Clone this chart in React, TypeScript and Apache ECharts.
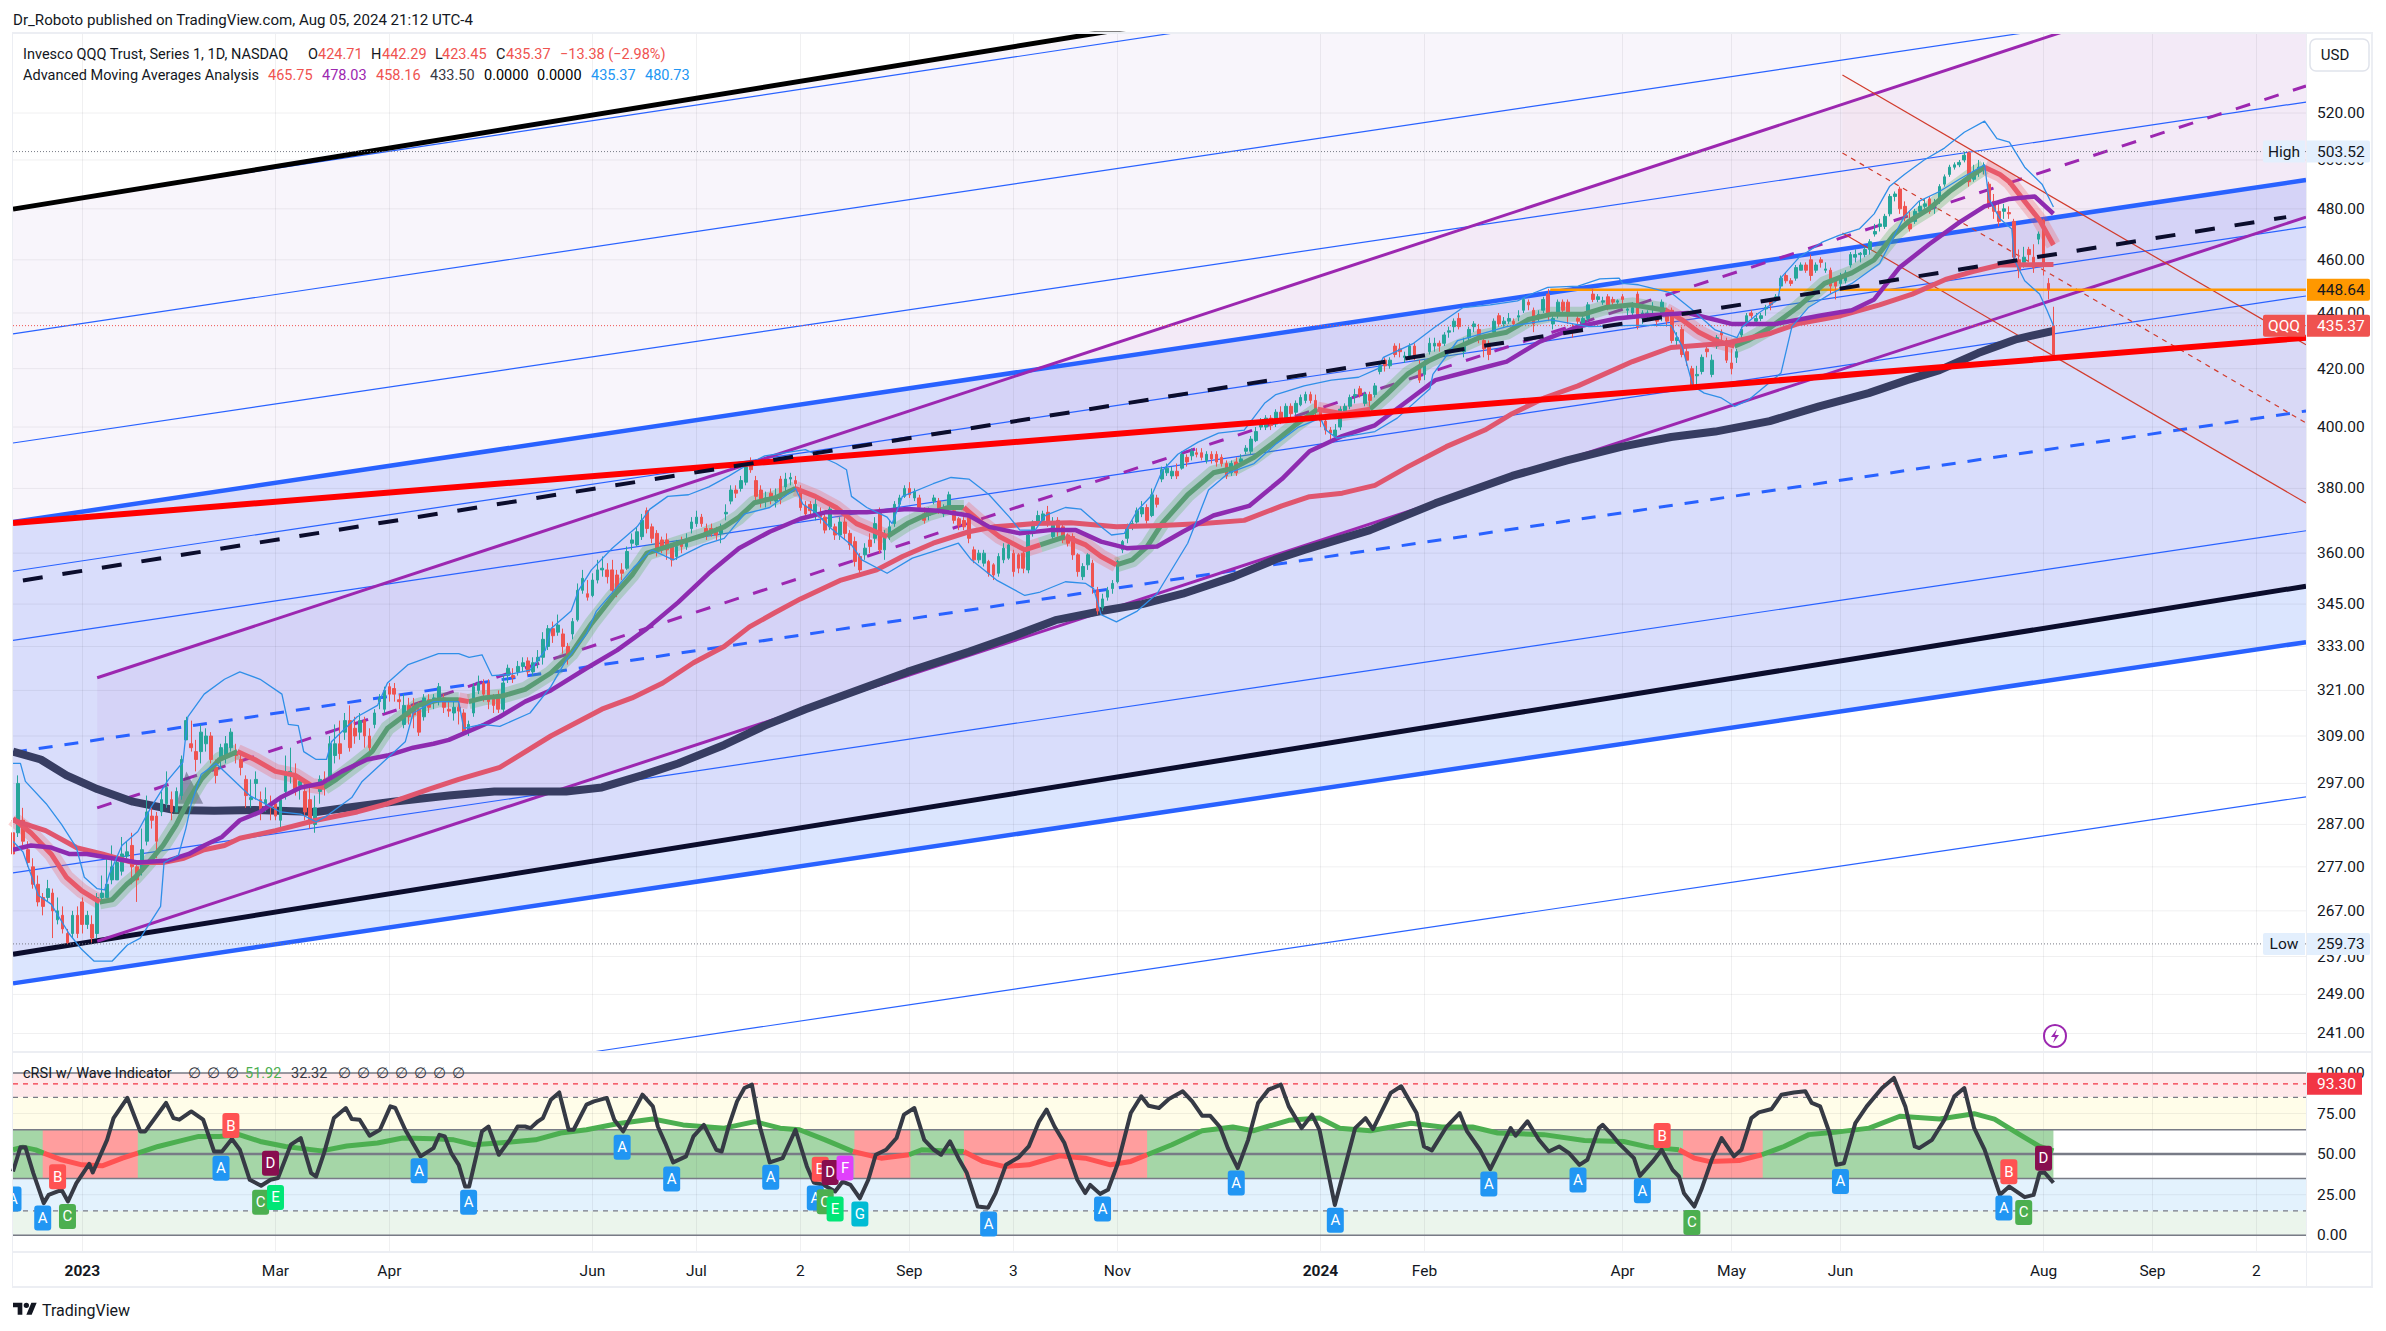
import React, { useEffect, useRef } from "react";
import * as echarts from "echarts";

const W = 2386, H = 1331;
const FONT = "Roboto, 'Noto Sans', sans-serif";
const FIRST_K = -14, LAST_K = 449;

// ---------- time axis
const timeTicks: [number, string][] = [[0, "2023"], [39, "Mar"], [62, "Apr"], [103, "Jun"], [124, "Jul"], [145, "2"], [167, "Sep"], [188, "3"], [209, "Nov"], [250, "2024"], [271, "Feb"], [311, "Apr"], [333, "May"], [355, "Jun"], [396, "Aug"], [418, "Sep"], [439, "2"]];
// ---------- price axis
const priceTicks = [520, 500, 480, 460, 440, 420, 400, 380, 360, 345, 333, 321, 309, 297, 287, 277, 267, 257, 249, 241];
const oscTicks = [100, 75, 50, 25, 0];

// ---------- candles [open, close, low, high]
const candlesA = [[285,280,279,286],[285,297,284,299],[288,283,282,291],[281,278,277,283],[277,273,272,279],[273,269,268,275],[270,268,266,271],[270,272,269,274],[271,267,261,272],[265,267,264,270],[266,263,262,268],[262,260,259.73,263],[262,266,261,267],[266,262,261,268],[269,264,262,270],[264,266,263,267],[264,261,260,266],[262,270,261,271],[270,271,269,275],[270,273,270,280],[274,277,273,282],[274,278,274,279],[276,280,275,284],[279.5,280.5,278,283],[282,277,273,285],[277,274,269,278],[276,281,275,286],[283,290,282,294],[289,288,286,291],[289,283,279,290],[290,293,289,295],[292,296,291,300],[293,290,288,295],[290,295,290,296],[294,303,293,304],[308,313,308,314],[307,306,305,313],[305,303,300,308],[305,310,302,312],[307,309,305,311],[309,303,302,310],[301,299,297,303],[303,306,301,307],[304,307,302,309],[306,310,305,311],[305,304,302,307],[303,301,299,305],[298,294,291,299],[293,293.5,291,298],[297,298,293,300],[293,290,288,295],[292,293,290,296],[291.5,291,288,294],[292,289,288,293],[288,293,286,294],[295,299,293,304],[299,300,297,306],[299,295,294,302],[296.5,297.5,293,299],[295,290,288,297],[293,288,286,296],[287,291,285,294],[295,298,292,299],[298,296.5,294,300],[298,307,297,309],[304,307,302,312],[307,304.5,303,313],[310,313,308,315],[313,306,305,317],[311,309,307,314],[310,313,308,315],[313,309,306,314],[309,306,303,311],[312,315,311,316],[318,319,316,320],[316,321,315,322],[322,320,318,323],[321.5,320,318,323],[318.5,318,316,320],[312,317,311,320],[317,314,312,319],[317,314.5,311,319],[316,310,309,318],[314,319,313,320],[318.5,316.5,315,320],[318,319,316,320],[318,322,317,323],[319,316.5,315,320],[316,315.5,314,318],[315,316.5,313,318],[316.5,315.5,312,319],[315,310,309,316],[310,312,309,313],[315,322,314,323],[321,323,320,325],[323,320,318,324],[323,318,316,324],[319,317,315,320],[319,316,315,321],[316,323,315,325],[325,327,323,328],[325,324.5,323,327],[326,327.5,325,329],[327.5,328.5,326,330],[329,326,325,330],[326,328.5,325,330],[329,330,327,332],[330,335,328,337],[333,338,332,339]];
const candlesB = [[338,336,334,340],[337,339,336,342],[336.5,333,331,338],[333,330,328,334],[336.5,340,335,341],[340.5,349,340,351],[349,352.5,348,355],[348,347,346,352],[347.5,352,347,354],[352,355,351,358],[355,355.5,353,359],[355,353,351,357],[355,349,347,358],[353.5,348.5,347,355],[355,354,352,357],[355.5,360.5,355,362],[363,364,361,366],[362.5,366.5,362,368],[365,370,364,372],[373,367.5,366,374],[368,364.5,363,369],[366,361.5,359,367],[364,362,360,365],[364,361,358,366],[362,358,356,363],[359,362,358,364],[363.5,362,360,365],[362,364,361,366],[367.5,369.5,366,371],[369,371,368,373],[371,369,368,372],[367.5,365.5,364,369],[367.5,366.5,365,369],[366.5,365.5,364,368],[366,368,363,369],[372,372.5,370,375],[376,379.5,375,381],[379.5,378.5,377,381],[380,382.5,379,384],[382,387,381,388],[388,386,385,390],[382.5,377.5,376,384],[379.5,375.5,374,381],[376,377,374,379],[378.5,376.5,375,380],[376,377.5,374,380],[383,376.5,375,384],[380.5,383,379,385],[383,383.5,381,385],[382.5,381.5,380,384],[379.5,374,373,381],[374.5,372,371,376],[375,373,371,376],[371.5,375,370,377],[372,371,369,374],[371,367,366,372],[368,373.5,367,375],[368,365.5,364,369],[365.5,369.5,364,371],[369.5,366,364,371],[366,362.5,361,367],[363.5,357.5,356,365],[359,355,354,360],[359.5,361.5,358,363],[364,362,360,366],[364.5,369,363,371],[373,361,360,374],[361,365,358,367],[366,368,364,370],[369,375,368,376],[375,377,374,378],[377.5,380,377,381],[380,378,377,382],[377,379,376,380],[377,374,373,378],[372,370,369,374],[371.5,372.5,370,374],[376,377,375,378],[376,373,372,377],[372,374,371,375],[373.5,378,373,379],[373,370,369,374],[370.5,368.5,367,371],[370,368,367,371],[371,364.5,363,372],[361,358,357,362],[358,360,357,361],[357,360,356,361],[357.5,354,353,358],[356.5,353.5,352,357],[354,359,353,360],[358,361.5,357,363],[358.5,362.5,358,364],[360,354.5,353,361],[359.5,355.5,354,360],[360,355.5,354,361],[355,365.5,354,366],[366,369.5,365,370],[369.5,371.5,369,373],[370,372,369,373],[372.5,369.5,368,374.5],[365,369.5,364,371],[370,366.5,365,371],[368,364,363,369],[365.5,363,362,366],[365,359.5,358,366],[359.5,354.5,353,360],[353,356,352,357],[356.5,359.5,355,360],[357,350,348,358],[349,343,342,350],[344,346.5,343,348],[347,349,346,350],[349.5,351,348,352],[351.5,357.5,351,358],[361,363.5,360,364],[364.5,368,363,369],[368,369,367,370],[369.5,373,369,374],[372,374,371,376],[374,370,369,375],[371.5,378,371,380],[377,375,374,378],[383,386,382,387],[385,386.5,384,388],[384,385.5,383,387],[385.5,384,383,388],[386.5,391,386,392],[390,388.5,387,391],[390.5,392,389,393],[391.5,391,390,393],[391.5,390,389,393],[389,391,388,392],[391,389.5,388,392],[391,388.5,387,392],[390,388,387,391],[388,384,383,389],[385,388,384,389],[388.5,385,384,390],[388.5,389.5,388,391],[392,393,391,394],[392,396,391,397],[395.5,398.5,395,400],[400,402,399,403],[400,403,399,404],[403,400.5,399,404],[401,405,400,406],[405,402.5,401,407],[403,407,402,408],[407,404.5,403,408],[405,408,404,409],[407.5,410,407,411],[409,411,408,412],[411,409,408,412],[409,405,404,411]];
const candlesC = [[405,402,400,406],[402,399,397.5,403],[399,398,396,400],[397,399,396,401],[400,406,399,407],[405,407,404,408],[407,410,406,411],[410.5,411,408,413],[413,411,410,414],[408,411,407,412],[411,409,407,412],[411,414,410,415],[419,421,418,422],[423,421,419,424],[421,423,420,424],[428,425,424,429],[427,426,424,429],[424,424.5,422,426],[424,428,423,429],[428,424,423,429],[421,416,415,423],[418,422,416,423],[426,429,425,431],[428,429,426,431],[429,428,426,430],[429,432,428,433],[433,433.5,431,435],[435,437,433,438],[438,435,434,440],[426,428,424,431],[431,434,429,435],[435,436,433,437],[434,431,429,436],[430,427,424,431],[429,425,423,430],[433,437,432,438],[439,436,435,440],[436,437,435,438.5],[437,438,436,440],[437,436,434,438],[438.5,439,437,441],[441,445,440,446],[444,443,441,445],[441,436,433,442],[439,439.5,437,441],[441,445,440,446],[447,439,437,449],[436,438,434,440],[440,444,438,445],[444,441,440,445],[444,439,436,445],[434,433,431,436],[438,437,436,440],[435,438,434,439],[438,443,437,444],[447,445,444,449],[445,446,444,447],[444,444.5,443,446],[446,442,441,447],[445,444,442,446],[444,444.5,443,445],[446,445,443,447],[441,441.5,439,443],[440,442,439,444],[447,435,434,448],[438,440,436,441],[439,440,438,441],[442,442.5,438,444],[439,437,435,440],[439,444,437,445],[441,437,435,442],[441,430,429,442],[430,431,428,433],[434,425,424,435],[426,423,421,428],[420,414,413,421],[417.5,418,414,421],[419,424,418,425],[427,426,424,429],[418,423,417,425],[428,431,427,432],[433,432,429,434],[430,423,422,431],[422,420,418,427],[424,426,422,427],[432,434,431,435],[436,439,435,440],[440,439,438,441],[437,438,436,440],[438,439,437,440],[441.5,442,439,443],[444,443,441,445],[445,446,444,447],[450,453,449,454],[454,452,451,455],[452,451,450,453],[453,457,452,458],[456,458,456,459],[458,456,455,459],[460,454,452,462],[456,458,455,459],[460,459,457,461],[456,456.5,455,459],[456,450,447,457],[452,450,445,452.5],[451,453,449,455],[452,455,451,456],[458,462,457,463],[461,462,459,464],[462,462.5,459,463],[462,464,461,465],[464,467,462,468],[470,471,469,474],[473,474,471,476],[473,477,472,478],[478,485,477,486],[485,486,483,487],[488,480,478,489],[481,477,475,483],[474,472,471,479],[475,479,474,480],[479,481,478,483],[481,482,480,484],[484,479,478,485],[481,482,478,484],[483,489,482,490],[490,493,489,494],[494,497,493,498],[497,498,496,499],[498,499,497,500],[500,502,499,503.52],[503,491,489,503.5],[492,494,491,498],[496.5,497,493,500],[497,497.5,494,499],[490,482,480,491],[483,479,476,486],[479,475,473,482],[479,480,476,482],[478.5,478,476,481],[475,461,460,476],[460,456,453,464],[459,461,457,465],[464,462,459,465],[461,457,455,466],[468,470,466,471],[475.5,458,454,476],[451,448.75,445,453],[424.71,435.37,423.45,442.29]];

// ---------- moving averages [barIndexFromJan2023, price]
const fastMA = [[-14,288.4],[-10.4,285],[-6.3,280],[-3.2,274.6],[-.1,271.5],[3.5,269],[6,269.5],[9,273],[10.7,274.6],[13,277.5],[16.3,282],[19,287],[21.5,293],[24,298],[27.7,303],[31.3,305],[34.8,303],[39,300],[43,299],[46.2,296.5],[48.8,296],[51.3,298],[55.5,302],[58.5,305],[61.6,311],[64.7,314],[67.8,317],[72,318.5],[76,318.5],[78,318],[81,319],[84.8,319.5],[89.4,321.3],[94.6,325.7],[98.7,331],[102.8,339.4],[107,347],[111,353.5],[114,360],[117.2,361.5],[121.3,363.5],[125.4,365.5],[129.6,368],[132.6,371],[135.7,375.5],[139.8,377],[144,380],[148,377.5],[152.2,374],[156.3,369],[162.5,365],[166.6,369],[170.7,372],[174.9,374],[178,374],[181,370],[185.2,365],[190.3,361],[193.4,362.5],[198.5,365],[202.6,362.5],[205.7,359],[208.8,356.5],[212,358],[215,362],[218,369],[223.2,378],[228.4,385],[232.5,386.5],[236.6,390],[240.7,395],[244.8,400.5],[249.4,406],[254.4,404.5],[260,406],[263.3,411],[267.7,418.3],[272.1,423],[276.6,426.7],[282,431],[287.6,433],[292,437.6],[296.5,439.5],[303,439.5],[307.5,442],[313,443],[319.7,441],[323,437.5],[326.4,433],[329.7,430],[333.6,428],[336.3,430],[340.7,434.5],[346.3,442],[351.8,451],[357.3,455],[361.8,460],[365.9,470],[368.8,475],[372.9,480],[377,487],[381.1,493],[384.1,497],[387.2,494],[389.1,491],[392.2,483],[395.2,475.5],[398,465.75]];
const fastUpRuns = [[3.5,31.3],[48.8,76],[78,144],[162.5,178],[193.4,198.5],[208.8,249.4],[260,319.7],[333.6,384.1]];
const fastDownRuns = [[-14,3.5],[31.3,48.8],[76,78],[144,162.5],[178,193.4],[198.5,208.8],[249.4,260],[319.7,333.6],[384.1,398]];
const purpleMA = [[-14,281],[-10.4,282],[-6.3,281.5],[-2.7,280],[.9,280],[6,279],[11.2,278],[17.4,278.5],[21.5,280],[24.6,282],[28.2,284],[31.8,288],[35.9,290],[40,293.5],[44.1,296],[48.3,297],[52.4,300],[57.5,303],[61.6,304],[66.8,306],[70.9,307],[74,308],[81.2,312],[84.3,314],[89.4,318],[94.6,321],[101.8,327],[108,332],[114,338],[120.3,345.5],[126.5,354],[132.6,361.5],[138.8,366.5],[145,370.5],[150,372.5],[158.4,372.5],[166.6,373.5],[172.8,373],[179,371.5],[183.1,368],[189.3,366],[195.4,367],[200.6,367],[205.7,363.5],[210.9,361.5],[217,362],[222.2,366.5],[228.4,371.5],[235.6,374.5],[242.2,383],[247.8,392],[254.4,397],[261,400.6],[267.7,409],[273.2,416],[279.9,419],[287.6,422.5],[294.3,429.6],[302,435],[309.8,438],[315.3,439],[324.2,440],[333,436],[341.9,436],[350.7,439],[357.3,441],[361.8,445],[366.9,457],[372.9,466],[379,474.6],[384.1,481],[389.1,484],[394.2,485],[398,478.03]];
const roseMA = [[-14,288],[-7.4,285.5],[-1.2,281.5],[4,280],[10.2,278],[16.3,278],[20.5,279],[24.6,281],[28.7,282],[31.8,283.7],[39,285.5],[47.2,288],[55.5,290],[61.6,292],[69.9,295.5],[76,298],[84.3,301],[94.6,309],[104.9,316],[111,319],[117.2,323],[123.4,328.5],[129.6,333],[134.7,338.5],[139.8,342.5],[145,346.5],[153.2,352],[160.4,355],[165.6,359],[171.8,363],[179,366.5],[184.1,368],[192.4,369],[199.6,369.3],[208.8,368],[218,368.4],[226.3,369],[234.6,370],[242.2,374.5],[247.8,377.4],[254.4,378.5],[261,381],[267.7,387],[275.4,393.5],[283.2,399],[288.7,404.5],[295.4,410],[302,414],[313,422.5],[320.8,427.5],[331.9,429],[340.7,432.5],[346.3,436],[355.1,439],[362.9,443],[369.5,447],[376.2,452.5],[381.7,455.5],[387.2,458],[398,458.16]];
const navyMA = [[-14,305],[-8.4,303],[-3.2,299],[3,295.6],[10.2,292.5],[18.4,290.5],[26.6,290.3],[34.9,290.5],[47.2,290],[53.4,291],[62.7,292.5],[74,294],[83.2,295],[97.7,295],[104.9,296],[113,299],[120.3,302],[129.6,306.7],[137.8,311.7],[146,316],[154.3,320],[166.6,326],[179,331.5],[188.2,336],[196.5,340.4],[205.7,343],[214,345],[222.2,348],[232.5,353],[240.7,358],[246.7,361],[260,367],[273.2,375.3],[288.7,384],[299.8,389],[310.9,393.5],[320.8,396.7],[329.7,398.5],[340.7,402],[350.7,407],[360.7,411.5],[368.4,416],[375,419.5],[382.8,425.5],[390.6,430.5],[398,433.5]];
const bbUpper = [[-14,302],[-12.5,302],[-11.5,297.5],[-7.3,292],[-4.2,287],[-1.2,281.5],[.4,274.6],[3,272],[4.5,271.7],[5.5,275.4],[8,282],[11.2,285.3],[13.8,291],[17.4,298],[20.3,302.3],[21.3,314],[24.6,320],[28.7,324],[31.8,326],[35.9,324],[40.3,320],[41.6,312],[43.6,311.7],[44.7,305],[47.2,303],[49.3,303],[50.3,307.5],[55.5,314],[59.6,317],[61.6,323],[65.8,328],[71.9,331],[76,331],[78.1,330],[80.7,330.7],[82.7,325],[86.3,325.3],[90.4,326.5],[93.5,332],[94.6,338],[98.7,343],[100.2,349],[102.8,355],[107,361.5],[112,368],[114.6,373.5],[118.2,377.5],[122.4,378],[126.5,380.5],[130.6,384],[134.7,388],[137.8,390.5],[146,392.5],[152.2,388],[154.3,386],[155.3,377.5],[158.4,374],[162.5,371],[163.5,369],[165.6,377.5],[171.8,381.5],[175.4,383.5],[179,383],[183.1,378],[187.2,371],[189.3,367],[192.4,367],[194.4,371.5],[198.5,374],[201.6,373.5],[205.7,368],[207.8,365.5],[210.4,366],[213,373],[216,378],[218,385.5],[221.2,391],[225.3,395],[229.4,398],[234.6,399],[238.7,408],[241,411],[246.7,414],[252.2,416],[257.7,417],[261.6,420],[262.7,424],[268.8,429],[273.2,435],[278.8,442],[284.3,443],[289.8,444.5],[293.2,447.5],[295.9,449.5],[302,450],[306.4,452.7],[310.3,453],[311,451],[314.2,450.5],[320.8,447.5],[325.2,441],[329.7,433.8],[334.1,431],[335.2,435],[338.5,440],[342.4,445],[343.1,453.4],[346.7,461],[351.2,466.7],[354.7,469.5],[358.8,472],[361.8,478],[364.9,489],[367.9,494],[371.9,500],[376,505],[380,511.7],[384.1,516.5],[386.6,509],[389.1,507.5],[392.2,497],[395.7,490],[398,480.73]];
const bbLower = [[-14,283],[-12,280.5],[-8.9,270.5],[-6.3,268.5],[-2.7,262],[-.1,258.5],[2.4,256],[6,256],[9.1,259.5],[11.7,261],[15.8,268],[16.5,278],[19.4,279.7],[20.9,286],[22,292],[24,299.3],[27,302],[33.8,294],[40,290],[44.1,289.5],[47.2,287.6],[49.3,289],[54.4,293.5],[56.5,297.5],[60,301.5],[65.2,307.5],[66.8,315],[70.9,318],[76,318],[77,311],[80.7,312],[84.3,311.5],[90.4,315],[94.6,322],[97.6,329],[101.8,336.5],[103.8,343],[107.4,349],[111.5,356],[115,361],[119.3,358],[125.4,362.5],[129.6,364.5],[133.7,372],[138.8,374],[144,380],[145.5,375],[148,372.5],[151.2,367.5],[155.3,362.5],[157.4,358],[162.5,354],[167.6,358.5],[172.8,361],[176.9,363],[179.5,358],[184.6,352],[190.3,347.5],[193.4,348.5],[198.5,351.5],[202.6,351],[204.2,349.5],[205.7,342],[208.8,339.9],[213,343],[217,348],[223.2,363],[227.4,379.5],[231.5,385],[236.6,388],[241.1,394.5],[245.6,400],[250,403],[251.1,399],[253.3,396.3],[261,398.5],[265.5,403],[272.1,413],[272.7,418],[277.7,430],[287.6,435],[296.5,437.5],[304.2,435],[313.1,435.5],[320.8,435.5],[323,428],[325.2,414],[327.5,411.5],[330.8,410],[333.6,407],[336.3,409],[343,418.5],[345.2,435],[348.5,442],[352.9,447],[357.3,451],[362.9,458.6],[367.9,477],[370.8,483],[375,487],[379,492],[384.1,498],[385,484],[387.2,476],[389.6,472],[390.1,460],[392.2,452],[395.2,447],[396.7,441],[398,435.37]];

// ---------- drawn trend lines
const blackTop = [[-14,479.9],[449,654.9]];
const thinA = [[-14,480.3],[449,641.3]];
const thinB = [[-14,432.4],[449,576]];
const thinC = [[-14,394.7],[449,524.8]];
const blueUpper = [[-14,369.5],[449,491.7]];
const redThick = [[-14,369.2],[449,431]];
const blackDashed = [[-12,351.9],[445,476.7]];
const thinE = [[-14,354.6],[449,472.8]];
const thinF = [[-14,334.7],[449,446.3]];
const blueDashed = [[-14,304.8],[449,405.4]];
const thinD = [[-14,275.6],[449,366.8]];
const blackBottom = [[-14,257.5],[449,350.2]];
const blueBottom = [[-14,251.3],[449,334.2]];
const thinG = [[103,237.3],[449,293.7]];
const purpleTop = [[3,324.4],[449,594.9]];
const purpleDashed = [[3,291],[449,531.9]];
const purpleBottom = [[3,260.3],[449,476.7]];
const redFall1 = [[355.4,536.8],[449,428.5]];
const redFall2 = [[355.4,502.9],[449,401.4]];
const redFall3 = [[355.4,470.4],[449,375.4]];
const orangeLevel = [[296.4,448.64],[449,448.64]];
const highLevel = [[-14,503.52],[449,503.52]];
const lowLevel = [[-14,259.73],[449,259.73]];
const lastLevel = [[-14,435.37],[449,435.37]];
const triangleMark = [[19,292],[21,300],[24.4,292]];

// filled zones: [k1, top1, bottom1, k2, top2, bottom2]
const priceZones: [number[], string][] = [
  [[-14,479.9,369.5,449,654.9,491.7], "#f8f5fb"],
  [[-14,369.5,257.5,449,491.7,350.2], "#d9ddfb"],
  [[-14,257.5,251.3,449,350.2,334.2], "#dbe5fe"],
  [[3,324.4,260.3,449,594.9,476.7], "rgba(156,39,176,0.05)"],
  [[355.4,536.8,470.4,449,428.5,375.4], "rgba(244,67,54,0.025)"],
];

// price tags: [price, name, value]
const priceTags: [number, string, string, string, string][] = [
  [503.52, "High", "503.52", "#e3effd", "#131722"],
  [259.73, "Low", "259.73", "#e3effd", "#131722"],
  [448.64, "", "448.64", "#ff9800", "#131722"],
  [435.37, "QQQ", "435.37", "#ef5350", "#ffffff"],
];

// ---------- oscillator
const crsi = [[-14,39.3],[-12.5,54.3],[-11.5,54.3],[-9.9,38.3],[-7.8,19.8],[-6.8,24.9],[-4.2,28],[-2.9,20.8],[-1.2,32.1],[1.4,44],[2.1,38.7],[5,58.8],[6.3,72.2],[9.1,84.6],[11.7,64],[12.7,64],[16.9,81.5],[18.4,72.2],[19.6,71.2],[22,76.3],[24.4,71.2],[26.6,51.6],[28.2,51.6],[30.2,59.3],[31.8,52.7],[33.8,34.2],[36.1,30.5],[38,34.2],[39.5,35.2],[42.1,55.8],[44.1,59.9],[46.2,38.3],[47.2,36.2],[48.8,50.6],[50.8,72.2],[53.2,78.4],[54.4,71.6],[56,71.2],[58,61.3],[60.1,65],[62.2,79.4],[63.2,78.4],[65.2,65],[68.3,48.6],[70.9,53.7],[72.1,61.9],[73.2,60.9],[74.5,50.6],[76,43.4],[77.3,30],[78.1,30],[80.7,64],[82,67],[84.1,49.6],[86.3,58.8],[87.9,67],[89.4,67],[90.5,66],[92,70.2],[93,72.2],[94.6,83.5],[96.3,88],[98.2,65],[99.2,65],[101.8,80.5],[103.3,82.5],[105.9,84.6],[107.4,71.2],[109.2,64],[113.1,86.6],[115.2,79.4],[116.2,67],[117.7,56.8],[119.3,44.9],[121.9,48.6],[123.4,60.9],[125.5,68],[128,52.7],[129.1,51.6],[130.6,68],[132.2,82.5],[133.7,90.7],[135.2,92.8],[136.8,67],[138.8,44.9],[141.4,47.5],[144,65],[146.3,42.4],[147.7,32.5],[149.7,31],[152,27],[153.5,33],[155.1,31],[157,22.8],[158.7,34.2],[160.2,49.6],[162.3,52.7],[164.4,59.9],[165.9,74.3],[168,78.4],[170,58.8],[171.8,53],[173.4,49.6],[175.2,57.8],[176.9,47.5],[178.6,38.3],[180.8,17.7],[182.9,17],[184.4,26],[186.5,43.4],[189.1,48.1],[191.1,54.7],[193.2,70.2],[194.7,77.4],[196.3,67],[198.3,56.8],[200.9,34.2],[202.5,26],[203.5,31],[205.5,25.5],[207.1,28],[209.1,44.4],[211.7,75.3],[213.8,85.6],[215.3,79.8],[217.4,78.4],[219.4,84],[222.2,88.7],[224.1,82.5],[226.1,73.7],[227.7,73.7],[229.7,66.7],[231.3,53.7],[233.3,41.4],[235.4,58.8],[237.4,81.5],[239.5,89.7],[242,92.8],[243.6,79.4],[246.2,66],[248.3,74.3],[249.8,65],[252.9,18.7],[257,66],[259.1,72.2],[260.6,65.4],[264.2,87.7],[266.3,91.8],[269.4,75.3],[270.9,54.7],[272.5,52.3],[275.5,67],[278.1,75.3],[279.6,64],[282.2,52.7],[284.3,40.7],[288.4,66],[289.4,61.3],[291.8,70.2],[294.1,58.8],[296.1,51.6],[298.2,54.7],[300.2,50.6],[302.3,43.4],[303.9,46.5],[306.2,66],[307,68],[308.8,62],[310.2,56.8],[313.3,47.5],[314.5,36.6],[317.1,45.5],[318.9,52.7],[321.1,40.3],[322.4,36.2],[323.4,25.9],[325.5,17.7],[326.9,28],[329,46.5],[331,59.9],[333.5,48.6],[335,52.7],[337,72.2],[338.5,75.7],[341.1,77.8],[343.1,86.6],[345.6,88],[347.9,88.7],[349.2,81.5],[350.9,79.4],[352.8,63],[354.2,43.4],[355.7,44.4],[358,69.1],[360.3,79.4],[363.4,90.7],[365.8,96.9],[368.1,79.4],[370,54.7],[370.9,53.7],[373.5,58.8],[376,71.2],[378,85.6],[380,90.7],[382,66],[384.1,52.7],[387.2,24.9],[389.1,30],[392.2,23.5],[394,24.9],[395.2,38.3],[396.2,38.7],[398,32.32]];
const signal = [[-14,52.7],[-12,54.3],[-9.4,52.6],[-7.8,50.6],[-4.2,46.5],[-.1,43.4],[4,42.8],[8.1,47.5],[11.2,50.6],[15.3,54.7],[19.4,57.8],[23.5,60.9],[27.7,60.9],[31.8,61.9],[35.9,57.8],[41,54.7],[48.3,52],[53.4,55],[59.6,56.8],[64.7,59.9],[70.9,59.5],[75,58.8],[79.1,55.8],[85.3,57.2],[91.5,58.8],[96.6,63],[101.8,65],[108,68.7],[115.2,71.6],[121.3,68],[129.6,66],[135.8,70],[140.9,66],[144.8,65],[150,58.8],[155.6,51.6],[161.3,47.5],[166.9,49.6],[169.5,52.7],[173.6,52],[178,51.6],[181.9,45.5],[186,42.4],[191.1,43.4],[197.3,49],[202.5,47.5],[207.6,43.4],[211.7,45.5],[215,49.6],[220,55.8],[226.1,64.4],[232.3,66.7],[236.4,64.4],[243.6,70.8],[249.8,72.2],[253.9,66],[260.1,64.4],[268.3,69],[274.5,66.7],[280.7,66.7],[285.8,63],[295.1,62],[303.3,58.4],[311.2,57.8],[316.3,54.3],[322.4,52.7],[325.5,47.5],[328.4,45.5],[334.5,46],[339.1,49.6],[343.6,54.7],[348.6,62],[353.8,63.4],[360.8,66],[367,73.3],[375,71.6],[382,74.9],[386.1,71.6],[391.2,62],[395.2,54.7],[398,51.92]];
const signalDownRuns = [[-7.8,11.2],[155.6,166.9],[178,215],[322.4,339.1]];
const signalUpRuns = [[-14,-7.8],[11.2,155.6],[166.9,178],[215,322.4],[339.1,398]];
// oscillator zones: [k1, k2, high, low]
const oscZones: [number[], string][] = [
  [[-14,449,100,85], "#ffe9ea"],
  [[-14,449,85,65], "#fffde9"],
  [[-14,398,65,35], "#a5d6a7"],
  [[-14,449,35,15], "#e3f2fd"],
  [[-14,449,15,0], "#ebf5ec"],
  [[-8,11.2,65,35], "#ff9e9e"],
  [[155.9,167.2,65,35], "#ff9e9e"],
  [[178,215,65,35], "#ff9e9e"],
  [[323.2,339.3,65,35], "#ff9e9e"],
];
const oscLevels: [number, string, number, any][] = [
  [100, "#787b86", 1.5, "solid"], [93.3, "#f23645", 1.2, [5, 5]], [85, "#787b86", 1.2, [5, 5]],
  [65, "#787b86", 1.5, "solid"], [50, "#787b86", 2.5, "solid"], [35, "#787b86", 1.5, "solid"],
  [15, "#787b86", 1.2, [5, 5]], [0, "#787b86", 1.5, "solid"],
];
// wave labels: [k, value, letter, side]
const waveMarks: [number, number, string, number][] = [
  [-14,30,"A",1],[-8,18.3,"A",1],[-5,28.4,"B",-1],[-3,19.3,"C",1],[28,49,"A",1],[30,59.9,"B",-1],[36,28,"C",1],[38,36.6,"D",-1],[39,31,"E",1],[68,47.5,"A",1],[78,28,"A",1],[109,61.9,"A",1],[119,42.4,"A",1],[139,43.4,"A",1],[149,33,"B",-1],[148,30.7,"A",1],[150,28.4,"C",1],[151,31,"D",-1],[152,23.9,"E",1],[154,33.7,"F",-1],[157,20.8,"G",1],[183,14.6,"A",1],[206,23.9,"A",1],[233,39.9,"A",1],[253,17,"A",1],[284,39.3,"A",1],[302,41.8,"A",1],[315,35.2,"A",1],[319,53.7,"B",-1],[325,15.6,"C",1],[355,40.9,"A",1],[388,24.5,"A",1],[389,31.5,"B",-1],[392,21.8,"C",1],[396,39.7,"D",-1],
];
const waveColors: Record<string, string> = { A: "#2196f3", B: "#ff5252", C: "#4caf50", D: "#880e4f", E: "#00e676", F: "#e040fb", G: "#00bcd4" };

// ---------- header texts: [text, colour, x]
const publishedLine = "Dr_Roboto published on TradingView.com, Aug 05, 2024 21:12 UTC-4";
const legendRow1: [string, string, number][] = [["Invesco QQQ Trust, Series 1, 1D, NASDAQ", "#131722", 23], ["O", "#131722", 308], ["424.71", "#ef5350", 318], ["H", "#131722", 371], ["442.29", "#ef5350", 382], ["L", "#131722", 435], ["423.45", "#ef5350", 442], ["C", "#131722", 496], ["435.37", "#ef5350", 506], ["\u221213.38 (\u22122.98%)", "#ef5350", 560]];
const legendRow2: [string, string, number][] = [["Advanced Moving Averages Analysis", "#131722", 23], ["465.75", "#ef5350", 268], ["478.03", "#9c27b0", 322], ["458.16", "#ef5350", 376], ["433.50", "#363a45", 430], ["0.0000", "#000000", 484], ["0.0000", "#000000", 537], ["435.37", "#2196f3", 591], ["480.73", "#2196f3", 645]];
const legendRow3: [string, string, number][] = [["cRSI w/ Wave Indicator", "#131722", 23], ["\u2205", "#363a45", 188], ["\u2205", "#363a45", 207], ["\u2205", "#363a45", 226], ["51.92", "#4caf50", 245], ["32.32", "#363a45", 291], ["\u2205", "#363a45", 338], ["\u2205", "#363a45", 357], ["\u2205", "#363a45", 376], ["\u2205", "#363a45", 395], ["\u2205", "#363a45", 414], ["\u2205", "#363a45", 433], ["\u2205", "#363a45", 452]];

echarts.graphic.registerShape("tvlogo", echarts.graphic.extendPath("M14 22H7V11H0V4h14v18zM28 22h-8l7.5-18h8L28 22zM24 8a4 4 0 1 1-8 0a4 4 0 0 1 8 0z", {}));

const GL = 13, GR = 2306, G1T = 34, G1B = 1052, G2T = 1052, G2B = 1252, LABEL_X = 2317, FRAME_R = 2372;

function App() {
  const ref = useRef<HTMLDivElement>(null);
  useEffect(() => {
    document.body.style.margin = "0";
    const chart = echarts.init(ref.current!, undefined, { renderer: "svg" });

    const nBars = LAST_K - FIRST_K + 1;
    const tickMap = new Map<number, string>(timeTicks.map(([k, l]) => [k - FIRST_K, l]));
    const categories = Array.from({ length: nBars }, (_, i) => tickMap.get(i) ?? "b" + i);
    const isTick = (i: number) => tickMap.has(i);
    const allCandles: any[] = [...candlesA, ...candlesB, ...candlesC];
    const candleData = allCandles.map((c, i) =>
      i === allCandles.length - 1 ? { value: c, itemStyle: { color: "#ef5350", borderColor: "#ef5350" } } : c);

    const line = (data: any, color: string, width: number, dash: any = "solid", z = 5, grid = 0) => ({
      type: "line", data, xAxisIndex: grid === 0 ? 1 : 3, yAxisIndex: grid, showSymbol: false, symbol: "none", silent: true, z,
      lineStyle: { color, width, type: dash, cap: "butt", join: "round" }, animation: false,
    });
    const inRun = (pts: number[][], run: number[]) => pts.filter((p) => p[0] >= run[0] && p[0] <= run[1]);

    const ribbon: any[] = [];
    fastUpRuns.forEach((r) => {
      ribbon.push(line(inRun(fastMA, r), "rgba(76,175,80,0.28)", 15, "solid", 7));
      ribbon.push(line(inRun(fastMA, r), "#5a9c75", 5, "solid", 9));
    });
    fastDownRuns.forEach((r) => {
      ribbon.push(line(inRun(fastMA, r), "rgba(239,83,80,0.26)", 15, "solid", 7));
      ribbon.push(line(inRun(fastMA, r), "#e8596a", 5, "solid", 9));
    });
    const signalSeries: any[] = [];
    signalDownRuns.forEach((r) => signalSeries.push(line(inRun(signal, r), "#ff5252", 5, "solid", 5, 1)));
    signalUpRuns.forEach((r) => signalSeries.push(line(inRun(signal, r), "#4caf50", 5, "solid", 4, 1)));

    const zoneSeries = {
      type: "custom", xAxisIndex: 1, yAxisIndex: 0, clip: true, silent: true, z: 1,
      data: priceZones.map((z) => [z[0][0], z[0][1]]), encode: { x: 0, y: 1 },
      renderItem: (p: any, api: any) => {
        const [v, fill] = priceZones[p.dataIndex];
        return { type: "polygon", shape: { points: [api.coord([v[0], v[1]]), api.coord([v[3], v[4]]), api.coord([v[3], v[5]]), api.coord([v[0], v[2]])] }, style: { fill } };
      },
    };
    const triangleSeries = {
      type: "custom", xAxisIndex: 1, yAxisIndex: 0, clip: true, silent: true, z: 6,
      data: [triangleMark[0]], encode: { x: 0, y: 1 },
      renderItem: (_: any, api: any) => ({ type: "polygon", shape: { points: triangleMark.map((t) => api.coord(t)) }, style: { fill: "rgba(70,75,100,0.5)" } }),
    };
    const priceTickSeries = {
      type: "custom", xAxisIndex: 1, yAxisIndex: 0, clip: false, silent: true, z: 2,
      data: priceTicks.map((t) => [FIRST_K, t]), encode: { x: 0, y: 1 },
      renderItem: (p: any, api: any) => {
        const y = api.coord([FIRST_K, api.value(1)])[1];
        return { type: "group", children: [
          { type: "line", shape: { x1: GL, y1: y, x2: GR, y2: y }, style: { stroke: "rgba(42,46,57,0.07)", lineWidth: 1 } },
          { type: "text", x: LABEL_X, y, style: { text: priceTicks[p.dataIndex].toFixed(2), fill: "#131722", font: `15.5px ${FONT}`, textVerticalAlign: "middle" } },
        ] };
      },
    };
    const priceTagSeries = {
      type: "custom", xAxisIndex: 1, yAxisIndex: 0, clip: false, silent: true, z: 20,
      data: priceTags.map((t) => [FIRST_K, t[0]]), encode: { x: 0, y: 1 },
      renderItem: (p: any, api: any) => {
        const [, name, val, bg, fg] = priceTags[p.dataIndex];
        const y = api.coord([FIRST_K, api.value(1)])[1];
        const kids: any[] = [
          { type: "rect", shape: { x: GR, y: y - 11, width: 64, height: 22, r: [0, 2, 2, 0] }, style: { fill: bg } },
          { type: "text", x: LABEL_X, y, style: { text: val, fill: fg, font: `15.5px ${FONT}`, textVerticalAlign: "middle" } },
        ];
        if (name) {
          kids.push({ type: "rect", shape: { x: GR - 43, y: y - 11, width: 42, height: 22, r: [2, 0, 0, 2] }, style: { fill: bg } });
          kids.push({ type: "text", x: GR - 22, y, style: { text: name, fill: fg, font: `15.5px ${FONT}`, textAlign: "center", textVerticalAlign: "middle" } });
        }
        return { type: "group", children: kids };
      },
    };
    const oscZoneSeries = {
      type: "custom", xAxisIndex: 3, yAxisIndex: 1, clip: true, silent: true, z: 1,
      data: oscZones.map((z) => [z[0][0], z[0][2]]), encode: { x: 0, y: 1 },
      renderItem: (p: any, api: any) => {
        const [v, fill] = oscZones[p.dataIndex];
        const a = api.coord([v[0], v[2]]), b = api.coord([v[1], v[3]]);
        return { type: "rect", shape: { x: a[0], y: a[1], width: b[0] - a[0], height: b[1] - a[1] }, style: { fill } };
      },
    };
    const oscTickSeries = {
      type: "custom", xAxisIndex: 3, yAxisIndex: 1, clip: false, silent: true, z: 2,
      data: oscTicks.map((t) => [FIRST_K, t]), encode: { x: 0, y: 1 },
      renderItem: (p: any, api: any) => {
        const y = api.coord([FIRST_K, api.value(1)])[1];
        return { type: "group", children: [
          { type: "line", shape: { x1: GL, y1: y, x2: GR, y2: y }, style: { stroke: "rgba(42,46,57,0.07)", lineWidth: 1 } },
          { type: "text", x: LABEL_X, y, style: { text: oscTicks[p.dataIndex].toFixed(2), fill: "#131722", font: `15.5px ${FONT}`, textVerticalAlign: "middle" } },
        ] };
      },
    };
    const oscTagSeries = {
      type: "custom", xAxisIndex: 3, yAxisIndex: 1, clip: false, silent: true, z: 20,
      data: [[FIRST_K, 93.3]], encode: { x: 0, y: 1 },
      renderItem: (_: any, api: any) => {
        const y = api.coord([FIRST_K, 93.3])[1];
        return { type: "group", children: [
          { type: "rect", shape: { x: GR, y: y - 11, width: 56, height: 22 }, style: { fill: "#f23645" } },
          { type: "text", x: LABEL_X, y, style: { text: "93.30", fill: "#ffffff", font: `15.5px ${FONT}`, textVerticalAlign: "middle" } },
        ] };
      },
    };
    const waveSeries = {
      type: "custom", xAxisIndex: 3, yAxisIndex: 1, clip: true, silent: true, z: 12,
      data: waveMarks.map((m) => [m[0], m[1]]), encode: { x: 0, y: 1 },
      renderItem: (p: any, api: any) => {
        const [k, v, letter, side] = waveMarks[p.dataIndex];
        const [x, y] = api.coord([k, v]);
        const h = 25, w = 17, fill = waveColors[letter];
        const top = side > 0 ? y : y - h;
        return { type: "group", children: [
          { type: "rect", shape: { x: x - w / 2, y: top, width: w, height: h, r: 3 }, style: { fill } },
          { type: "text", x, y: top + h / 2, style: { text: letter, fill: "#ffffff", font: `15px ${FONT}`, textAlign: "center", textVerticalAlign: "middle" } },
        ] };
      },
    };

    const textRow = (row: [string, string, number][], y: number) =>
      row.map(([text, fill, x]) => ({ type: "text", x, y, z: 30, style: { text, fill, font: `14.5px ${FONT}`, textVerticalAlign: "middle" } }));
    const bar = (x: number, y: number, width: number, height: number, fill = "#eceef3") =>
      ({ type: "rect", z: 25, shape: { x, y, width, height }, style: { fill } });

    const catAxis = (gridIndex: number, labels: boolean) => ({
      type: "category", gridIndex, data: categories, boundaryGap: false,
      axisLine: { show: false }, axisTick: { show: false },
      splitLine: { show: true, interval: (i: number) => isTick(i), lineStyle: { color: "rgba(42,46,57,0.07)", width: 1 } },
      axisLabel: labels ? {
        show: true, interval: (i: number) => isTick(i), margin: 11, color: "#131722", fontFamily: FONT, fontSize: 15.5,
        formatter: (v: string) => (v === "2023" || v === "2024" ? `{y|${v}}` : v),
        rich: { y: { fontWeight: "bold", color: "#131722", fontFamily: FONT, fontSize: 15.5 } },
      } : { show: false },
      z: 3,
    });
    const valAxis = (gridIndex: number) => ({ type: "value", gridIndex, min: FIRST_K, max: LAST_K, show: false });

    chart.setOption({
      animation: false,
      backgroundColor: "#ffffff",
      grid: [
        { left: GL, top: G1T, width: GR - GL, height: G1B - G1T },
        { left: GL, top: G2T, width: GR - GL, height: G2B - G2T },
      ],
      xAxis: [catAxis(0, false), valAxis(0), catAxis(1, true), valAxis(1)],
      yAxis: [
        { type: "log", gridIndex: 0, min: 237.3, max: 555.5, logBase: 10, show: false },
        { type: "value", gridIndex: 1, min: -10.3, max: 112.9, show: false },
      ],
      series: [
        zoneSeries, priceTickSeries,
        line(thinA, "#2962ff", 1.2), line(thinB, "#2962ff", 1.2), line(thinC, "#2962ff", 1.2),
        line(thinD, "#2962ff", 1.2), line(thinE, "#2962ff", 1.2), line(thinF, "#2962ff", 1.2), line(thinG, "#2962ff", 1.2),
        line(blackTop, "#000000", 5), line(blackBottom, "#0b0d2c", 5),
        line(blueUpper, "#2962ff", 4.5), line(blueBottom, "#2962ff", 4.5),
        line(blueDashed, "#2962ff", 3, [14, 12]),
        line(purpleTop, "#9c27b0", 3), line(purpleBottom, "#9c27b0", 3), line(purpleDashed, "#9c27b0", 3, [15, 15]),
        line(redFall1, "#d13b2c", 1.2), line(redFall2, "#d13b2c", 1.2, [5, 5]), line(redFall3, "#d13b2c", 1.2),
        line(highLevel, "#787b86", 1, [1, 2]), line(lowLevel, "#787b86", 1, [1, 2]), line(lastLevel, "#ef5350", 1, [1, 2]),
        line(orangeLevel, "#ff9800", 2.5),
        triangleSeries,
        line(navyMA, "#373d62", 8, "solid", 6),
        {
          type: "candlestick", xAxisIndex: 0, yAxisIndex: 0, data: candleData, barWidth: 3.2, z: 7, silent: true,
          itemStyle: { color: "#26a69a", color0: "#ef5350", borderColor: "#26a69a", borderColor0: "#ef5350", borderWidth: 1 },
        },
        ...ribbon,
        line(roseMA, "#e0566e", 5, "solid", 9),
        line(purpleMA, "#8e2bb0", 4.5, "solid", 9),
        line(bbUpper, "#2f8fe8", 1.3, "solid", 10), line(bbLower, "#2f8fe8", 1.3, "solid", 10),
        line(redThick, "#ff0000", 6, "solid", 10),
        line(blackDashed, "#0b0d2c", 4, [20, 20], 10),
        priceTagSeries,
        oscZoneSeries, oscTickSeries,
        ...oscLevels.map(([v, c, w, d]) => line([[FIRST_K, v], [LAST_K, v]], c, w, d, 3, 1)),
        ...signalSeries,
        line(crsi, "#363a45", 4, "solid", 10, 1),
        waveSeries, oscTagSeries,
      ],
      graphic: [
        bar(GL - 1, 32, FRAME_R - GL + 1, 2), bar(GL - 1, G2T - 1, FRAME_R - GL + 1, 2), bar(GL - 1, G2B - 1, FRAME_R - GL + 1, 2),
        bar(GL - 1, 1286, FRAME_R - GL + 1, 2), bar(GL - 1, 32, 1, 1256), bar(GR, 32, 1, 1256), bar(FRAME_R - 1, 32, 2, 1256),
        { type: "text", x: 13, y: 20, z: 30, style: { text: publishedLine, fill: "#131722", font: `15.1px ${FONT}`, textVerticalAlign: "middle" } },
        ...textRow(legendRow1, 54), ...textRow(legendRow2, 75), ...textRow(legendRow3, 1073),
        { type: "rect", z: 30, shape: { x: 2310, y: 39, width: 59, height: 32, r: 6 }, style: { fill: "#ffffff", stroke: "#e0e3eb", lineWidth: 1.5 } },
        { type: "text", x: 2335, y: 55, z: 31, style: { text: "USD", fill: "#131722", font: `15px ${FONT}`, textAlign: "center", textVerticalAlign: "middle" } },
        { type: "circle", z: 30, shape: { cx: 2055, cy: 1036, r: 11 }, style: { fill: "#ffffff", stroke: "#9c27b0", lineWidth: 2 } },
        { type: "polygon", z: 31, shape: { points: [[2057, 1029], [2051, 1037], [2055, 1037], [2053, 1043], [2059, 1035], [2055, 1035]] }, style: { fill: "#9c27b0" } },
        { type: "tvlogo", x: 13, y: 1300, scaleX: 0.667, scaleY: 0.667, z: 30, style: { fill: "#131722" } },
        { type: "text", x: 42, y: 1310, z: 30, style: { text: "TradingView", fill: "#131722", font: `16px ${FONT}`, textVerticalAlign: "middle" } },
      ],
    });
    return () => chart.dispose();
  }, []);
  return <div ref={ref} style={{ width: W, height: H }} />;
}

export default App;
